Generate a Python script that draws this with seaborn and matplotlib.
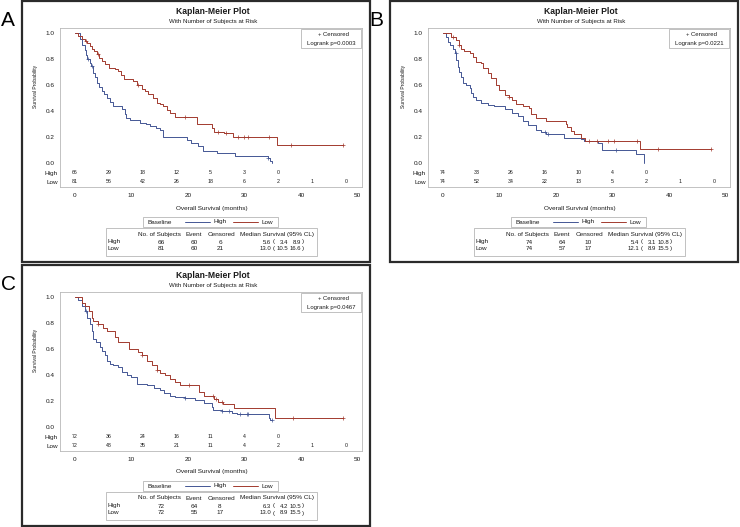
import numpy as np
import pandas as pd
import seaborn as sns
import matplotlib.pyplot as plt
from matplotlib.patches import Rectangle
from matplotlib.lines import Line2D

# ---- data (months, survival) ----
a_high_t = [0, 0.9, 1.3, 1.7, 2.0, 2.2, 2.6, 2.9, 3.2, 3.5, 3.9, 4.3, 4.8, 5.2, 5.6, 6.2, 6.8, 8.3, 8.8, 9.1,
            9.7, 11.5, 12.5, 13.3, 14.3, 15.0, 15.6, 19.8, 20.6, 21.8, 22.7, 25.1, 28.3, 34.2, 34.6, 34.9]
a_high_s = [1.0, 0.95, 0.91, 0.87, 0.83, 0.797, 0.77, 0.746, 0.695, 0.66, 0.618, 0.585, 0.554, 0.53, 0.503, 0.47,
            0.438, 0.413, 0.38, 0.349, 0.328, 0.310, 0.30, 0.285, 0.27, 0.254, 0.200, 0.18, 0.156, 0.131,
            0.095, 0.074, 0.056, 0.035, 0.018, 0.0]
a_high_cens = [2.3, 3.1, 34.2]
a_low_t = [0, 0.6, 1.2, 1.7, 2.1, 2.6, 3.0, 3.3, 3.9, 4.3, 4.8, 5.3, 6.0, 7.0, 7.7, 8.2, 8.6, 10.3, 11.0, 11.8,
           12.4, 13.0, 13.8, 14.5, 15.0, 15.6, 16.2, 16.8, 17.7, 21.6, 24.3, 24.6, 26.3, 28.0, 35.8, 47.4]
a_low_s = [1.0, 0.977, 0.951, 0.938, 0.926, 0.90, 0.875, 0.862, 0.84, 0.81, 0.785, 0.76, 0.733, 0.72, 0.708, 0.68,
           0.644, 0.631, 0.60, 0.567, 0.55, 0.528, 0.50, 0.464, 0.45, 0.438, 0.41, 0.387, 0.356, 0.297,
           0.265, 0.238, 0.228, 0.203, 0.136, 0.136]
a_low_cens = [2.0, 4.0, 11.2, 19.4, 25.4, 26.8, 28.8, 30.0, 30.6, 34.3, 38.3, 47.4]

b_high_t = [0, 0.6, 0.9, 1.2, 1.8, 2.05, 2.35, 2.6, 2.9, 3.2, 3.5, 4.1, 4.7, 5.0, 5.3, 5.9, 6.8, 7.9, 9.1, 10.9,
            12.3, 13.2, 14.1, 15.0, 16.4, 17.3, 18.2, 21.4, 24.4, 24.9, 27.5, 28.2, 34.2, 35.5]
b_high_s = [1.0, 0.969, 0.931, 0.906, 0.88, 0.842, 0.791, 0.74, 0.702, 0.664, 0.613, 0.6, 0.575, 0.537, 0.511,
            0.486, 0.461, 0.443, 0.435, 0.415, 0.384, 0.359, 0.32, 0.29, 0.257, 0.237, 0.219, 0.193, 0.181,
            0.168, 0.155, 0.099, 0.066, 0.0]
b_high_cens = [2.3, 18.0, 18.6, 30.6]
b_low_t = [0, 1.5, 2.3, 2.9, 3.2, 3.8, 4.7, 5.3, 5.9, 6.8, 7.0, 7.9, 8.5, 9.4, 10.0, 10.9, 11.7, 12.3, 12.9, 14.1,
           15.3, 15.5, 16.4, 18.2, 21.7, 22.0, 22.6, 23.2, 24.4, 25.2, 34.8, 47.5]
b_low_s = [1.0, 0.969, 0.944, 0.906, 0.88, 0.863, 0.842, 0.817, 0.779, 0.766, 0.728, 0.69, 0.652, 0.601, 0.562,
           0.524, 0.511, 0.481, 0.455, 0.435, 0.422, 0.379, 0.346, 0.32, 0.303, 0.277, 0.244, 0.219, 0.193,
           0.168, 0.109, 0.109]
b_low_cens = [1.8, 2.9, 11.7, 25.9, 27.2, 29.2, 30.3, 34.3, 38.1, 47.5]

c_high_t = [0, 0.6, 1.2, 1.8, 2.1, 2.7, 3.0, 3.25, 3.8, 4.4, 4.7, 5.3, 5.6, 6.2, 6.8, 7.7, 8.3, 9.2, 10.0, 10.9,
            12.7, 13.9, 15.1, 15.7, 16.8, 17.7, 19.5, 21.3, 22.8, 24.2, 24.5, 26.0, 27.8, 28.7, 34.3, 34.6, 34.8]
c_high_s = [1.0, 0.98, 0.929, 0.891, 0.84, 0.79, 0.739, 0.676, 0.651, 0.613, 0.587, 0.55, 0.511, 0.486, 0.473,
            0.461, 0.423, 0.397, 0.385, 0.334, 0.321, 0.296, 0.283, 0.258, 0.238, 0.228, 0.22, 0.207, 0.182,
            0.152, 0.131, 0.119, 0.111, 0.101, 0.068, 0.05, 0.05]
c_high_cens = [2.0, 19.5, 26.0, 27.2, 29.2, 30.4, 30.7, 34.8]
c_low_t = [0, 1.2, 1.8, 2.4, 3.0, 3.25, 4.1, 5.0, 5.6, 7.1, 7.7, 9.5, 11.2, 11.8, 12.7, 13.6, 14.5, 15.1, 16.0,
           16.8, 17.7, 18.6, 21.9, 22.8, 24.6, 25.4, 26.2, 28.2, 35.4, 47.5]
c_low_s = [1.0, 0.955, 0.929, 0.891, 0.84, 0.815, 0.79, 0.76, 0.739, 0.689, 0.651, 0.60, 0.575, 0.55, 0.511,
           0.473, 0.435, 0.415, 0.397, 0.372, 0.347, 0.321, 0.271, 0.238, 0.213, 0.195, 0.175, 0.144, 0.07, 0.07]
c_low_cens = [4.1, 11.8, 14.5, 20.1, 24.5, 25.0, 26.1, 38.5, 47.5]

risk_times = [0, 6, 12, 18, 24, 30, 36, 42, 48]
a_risk_high = [66, 29, 18, 12, 5, 3, 0]
a_risk_low = [81, 56, 42, 26, 18, 6, 2, 1, 0]
b_risk_high = [74, 33, 26, 16, 10, 4, 0]
b_risk_low = [74, 52, 34, 22, 13, 5, 2, 1, 0]
c_risk_high = [72, 36, 24, 16, 11, 4, 0]
c_risk_low = [72, 48, 35, 21, 11, 4, 2, 1, 0]

# label, subjects, events, censored, median, lower, upper
a_table = [["High", "66", "60", "6", "5.6", "3.4", "8.9"], ["Low", "81", "60", "21", "13.0", "10.5", "16.6"]]
b_table = [["High", "74", "64", "10", "5.4", "3.1", "10.8"], ["Low", "74", "57", "17", "12.1", "8.9", "15.5"]]
c_table = [["High", "72", "64", "8", "6.3", "4.2", "10.5"], ["Low", "72", "55", "17", "13.0", "8.9", "15.5"]]
pvalues = ["0.0003", "0.0221", "0.0467"]

W, H = 740, 527
BLUE = '#445694'
RED = '#A23A2E'
FRAME = '#b8b8b8'

sns.set_style('white')
plt.rcParams['font.family'] = ['Liberation Sans', 'DejaVu Sans']

fig = plt.figure(figsize=(W / 100, H / 100), dpi=100)


def fx(px):
    return px / W


def fy(py):
    return 1 - py / H


def put(x, y, s, **kw):
    kw.setdefault('ha', 'center')
    kw.setdefault('va', 'center')
    kw.setdefault('fontsize', 4.6)
    kw.setdefault('color', '#1a1a1a')
    fig.text(fx(x), fy(y), s, **kw)


def box(x0, y0, x1, y1, ec='#a8a8a8', lw=0.5):
    fig.add_artist(Rectangle((fx(x0), fy(y1)), (x1 - x0) / W, (y1 - y0) / H,
                             transform=fig.transFigure, fill=False, ec=ec, lw=lw))


def hline(x0, x1, y, color):
    fig.add_artist(Line2D([fx(x0), fx(x1)], [fy(y), fy(y)], transform=fig.transFigure, color=color, lw=0.7))


def km_frame(times, surv, name):
    return pd.DataFrame({'time': times, 'surv': surv, 'group': name})


def surv_at(times, surv, when):
    idx = np.searchsorted(times, when, side='right') - 1
    return np.asarray(surv)[idx]


def draw_panel(letter, dx, dy, high, low, risk_high, risk_low, table, pval):
    box(22 + dx, 0.8 + dy, 370 + dx, 262 + dy, ec='#2b2b2b', lw=1.6)
    put(1 + dx, 20 + dy, letter, fontsize=15, ha='left', color='black')
    put(213 + dx, 12 + dy, 'Kaplan-Meier Plot', fontsize=6.2, weight='bold')
    put(213 + dx, 21 + dy, 'With Number of Subjects at Risk', fontsize=4.4)

    ax = fig.add_axes([fx(60 + dx), fy(187 + dy), (362 - 60) / W, (187 - 28) / H])
    curves = pd.concat([km_frame(high[0], high[1], 'High'), km_frame(low[0], low[1], 'Low')])
    sns.lineplot(data=curves, x='time', y='surv', hue='group', palette={'High': BLUE, 'Low': RED},
                 drawstyle='steps-post', estimator=None, sort=False, legend=False, linewidth=0.7, ax=ax)
    for (t, s, c), col in ((high, BLUE), (low, RED)):
        sns.scatterplot(x=c, y=surv_at(t, s, c), marker='+', color=col, s=9, linewidth=0.5, ax=ax, legend=False)

    for vals, yv in ((risk_high, -0.077), (risk_low, -0.146)):
        for tt, v in zip(risk_times, vals):
            ax.text(tt, yv, str(v), fontsize=3.8, ha='center', va='center', color='#1a1a1a')

    ax.set_xlim(-2.65, 50.8)
    ax.set_ylim(-0.185, 1.038)
    ax.set_xticks(range(0, 51, 10))
    yt = np.arange(0, 1.01, 0.2)
    ax.set_yticks(yt)
    ax.set_yticklabels([f'{v:.1f}' for v in yt])
    ax.set_xlabel('')
    ax.set_ylabel('')
    for sp in ax.spines.values():
        sp.set_color(FRAME)
        sp.set_linewidth(0.6)
    ax.tick_params(length=2.5, width=0.5, color='#909090', labelsize=4.6, pad=1.5, labelcolor='#1a1a1a')

    put(58 + dx, 173 + dy, 'High', ha='right')
    put(58 + dx, 182 + dy, 'Low', ha='right')
    put(35 + dx, 86 + dy, 'Survival Probability', rotation=90, fontsize=3.6)
    put(212 + dx, 208 + dy, 'Overall Survival (months)')

    # censor / logrank inset
    box(301 + dx, 29 + dy, 361 + dx, 48 + dy)
    put(333 + dx, 34.5 + dy, '+ Censored', fontsize=4.3)
    put(331 + dx, 43 + dy, f'Logrank p={pval}', fontsize=4.3)

    # group legend
    box(143 + dx, 217 + dy, 278 + dx, 227 + dy)
    put(147 + dx, 222 + dy, 'Baseline', ha='left')
    hline(185 + dx, 210 + dx, 222 + dy, BLUE)
    put(213 + dx, 222 + dy, 'High', ha='left')
    hline(233 + dx, 258 + dx, 222 + dy, RED)
    put(262 + dx, 222 + dy, 'Low', ha='left')

    # summary table
    box(106 + dx, 228 + dy, 317 + dx, 256 + dy)
    for cx, head in ((160, 'No. of Subjects'), (194, 'Event'), (221, 'Censored'), (277, 'Median Survival (95% CL)')):
        put(cx + dx, 234 + dy, head)
    for row, ry in zip(table, (242, 249)):
        put(108 + dx, ry + dy, row[0], ha='left')
        put(161 + dx, ry + dy, row[1])
        put(194 + dx, ry + dy, row[2])
        put(220 + dx, ry + dy, row[3])
        put(271 + dx, ry + dy, row[4], ha='right', fontsize=4.3)
        put(272.5 + dx, ry + dy, '(', ha='left', fontsize=4.3)
        put(288.5 + dx, ry + dy, row[5], ha='right', fontsize=4.3)
        put(301.5 + dx, ry + dy, row[6], ha='right', fontsize=4.3)
        put(302.3 + dx, ry + dy, ')', ha='left', fontsize=4.3)


draw_panel('A', 0, 0, (a_high_t, a_high_s, a_high_cens), (a_low_t, a_low_s, a_low_cens),
           a_risk_high, a_risk_low, a_table, pvalues[0])
draw_panel('B', 368, 0, (b_high_t, b_high_s, b_high_cens), (b_low_t, b_low_s, b_low_cens),
           b_risk_high, b_risk_low, b_table, pvalues[1])
draw_panel('C', 0, 264, (c_high_t, c_high_s, c_high_cens), (c_low_t, c_low_s, c_low_cens),
           c_risk_high, c_risk_low, c_table, pvalues[2])

fig.savefig('out.png', dpi=100)
